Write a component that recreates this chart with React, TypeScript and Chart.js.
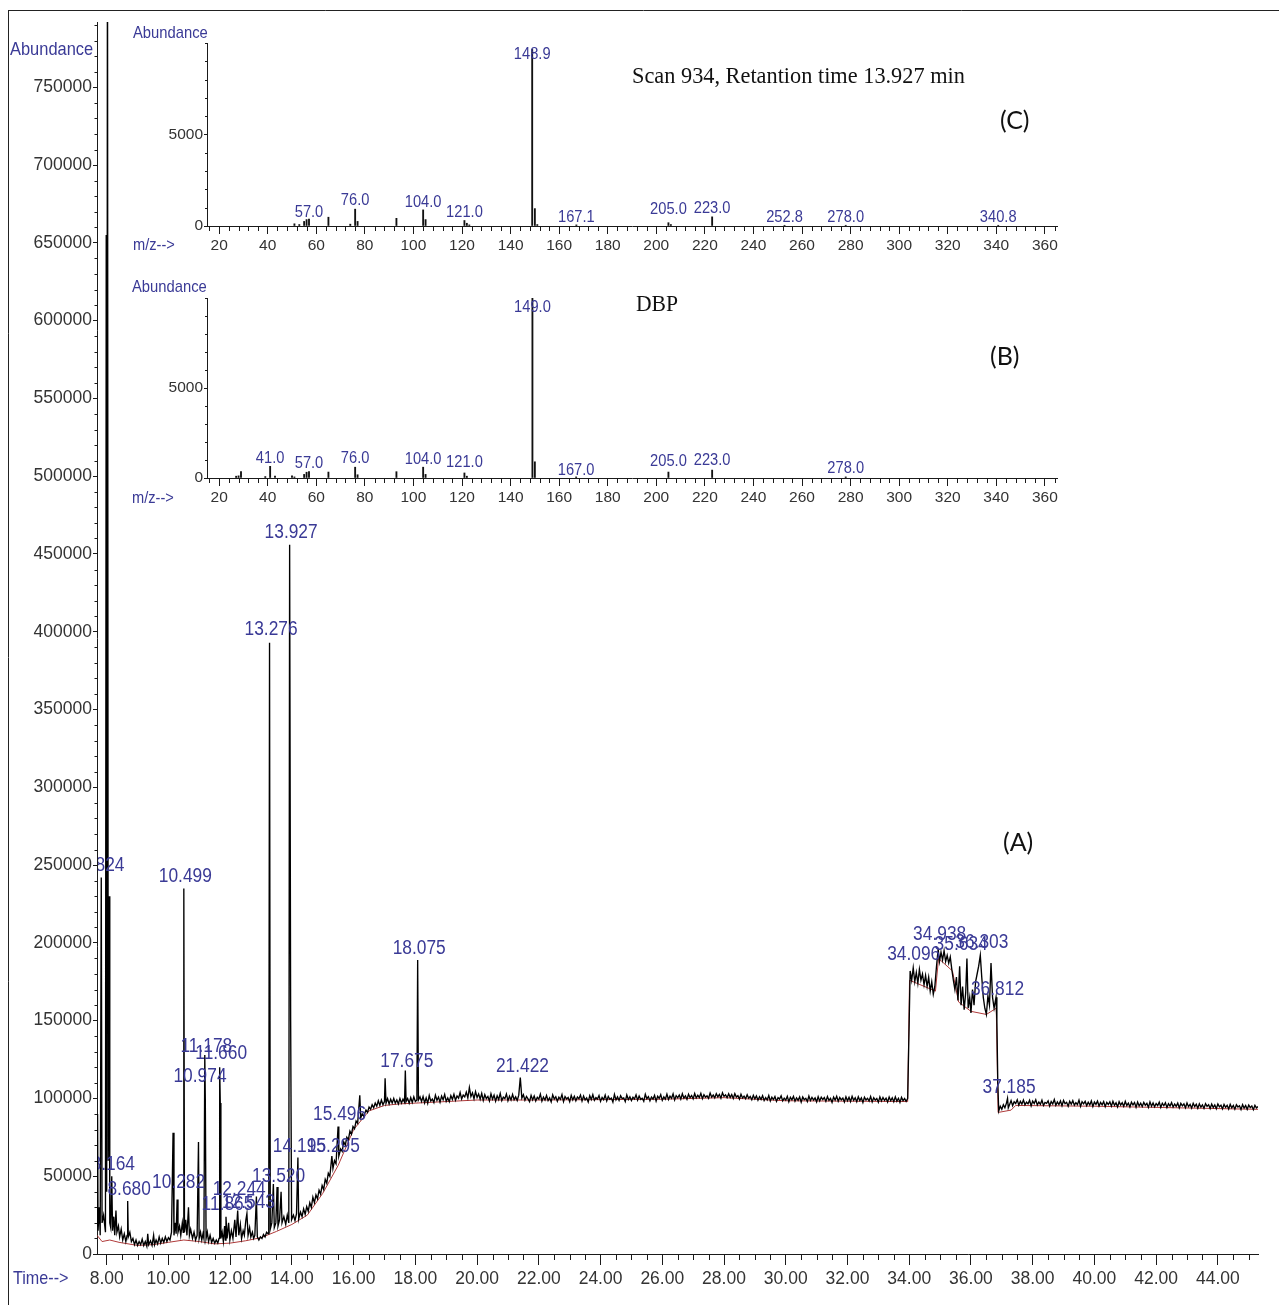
import React, { useEffect, useRef } from "react";
import { Chart, registerables } from "chart.js";

Chart.register(...registerables);

const SANS = "'Liberation Sans', Arial, sans-serif";
const SERIF = "'Liberation Serif', 'Times New Roman', serif";
const HUMAN = "Lato, 'Open Sans', sans-serif";
const BLUE = "#3a3a96";
const INK = "#1a1a1a";
const TICK_TEXT = "#333333";

// ---------- total ion chromatogram axes ----------
const RT_MIN = 7.686;
const RT_MAX = 45.3;
const ABUND_MAX = 792000;
const RT_TICKS = [8, 10, 12, 14, 16, 18, 20, 22, 24, 26, 28, 30, 32, 34, 36, 38, 40, 42, 44];
const ABUND_TICKS = [0, 50000, 100000, 150000, 200000, 250000, 300000, 350000, 400000, 450000, 500000, 550000, 600000, 650000, 700000, 750000];
const SCAN_INTERVAL = 0.05; // min between recorded TIC points in the flat regions

// ---------- TIC trace [retention time (min), abundance] ----------
const TIC_EARLY = [
  [7.690, 18000], [7.705, 90000], [7.720, 15000], [7.760, 30000], [7.790, 12000], [7.824, 242000], [7.850, 20000],
  [7.900, 25000], [7.960, 14000], [7.985, 655000], [8.000, 40000], [8.025, 900000], [8.050, 60000], [8.080, 230000],
  [8.100, 20000], [8.130, 17000], [8.164, 50000], [8.190, 15000], [8.230, 24000], [8.260, 12000], [8.300, 28000],
  [8.330, 14000], [8.380, 18000], [8.420, 11000], [8.470, 16000], [8.520, 9000], [8.570, 13000], [8.620, 8000],
  [8.660, 12000], [8.680, 34000], [8.700, 11000], [8.750, 14000], [8.800, 8000], [8.850, 10000], [8.900, 6000],
  [8.950, 9000], [9.000, 5500], [9.050, 8000], [9.100, 6000], [9.150, 9500], [9.200, 5500], [9.250, 8000],
  [9.300, 5000], [9.330, 13000], [9.360, 6000], [9.420, 8500], [9.470, 5500], [9.520, 12000], [9.550, 6000],
  [9.600, 9000], [9.650, 6500], [9.700, 11000], [9.750, 7000], [9.800, 10000], [9.850, 7500], [9.900, 11000],
  [9.950, 8000], [10.000, 10500], [10.050, 9000], [10.100, 14000],
];

const TIC_PEAKS = [
  [10.150, 78000], [10.180, 12000], [10.220, 20000], [10.250, 13000], [10.282, 35000], [10.310, 14000], [10.360, 18000],
  [10.400, 12000], [10.450, 20000], [10.480, 14000], [10.499, 235000], [10.520, 14000], [10.560, 22000], [10.600, 12000],
  [10.650, 30000], [10.680, 12000], [10.720, 16000], [10.780, 10000], [10.830, 14000], [10.880, 9000], [10.930, 12000],
  [10.974, 72000], [10.995, 10000], [11.040, 14000], [11.080, 9000], [11.120, 13000], [11.150, 10000], [11.178, 128000],
  [11.195, 100000], [11.220, 10000], [11.260, 14000], [11.300, 8000], [11.350, 12000], [11.400, 7500], [11.450, 10000],
  [11.500, 7000], [11.550, 9000], [11.600, 7000], [11.640, 10000], [11.660, 120000], [11.680, 97000], [11.700, 10000],
  [11.740, 14000], [11.780, 8000], [11.820, 18000], [11.845, 9000], [11.865, 24000], [11.900, 10000], [11.950, 20000],
  [11.990, 9000], [12.040, 15000], [12.090, 10000], [12.150, 22000], [12.190, 11000], [12.244, 28000], [12.280, 12000],
  [12.330, 19000], [12.370, 10000], [12.420, 15000], [12.460, 12000], [12.510, 22000], [12.543, 26000], [12.580, 12000],
  [12.630, 17000], [12.670, 11000], [12.720, 14000], [12.760, 10000], [12.800, 12000], [12.850, 37000], [12.880, 11000],
  [12.930, 9000], [12.980, 11000], [13.030, 10000], [13.080, 12500], [13.130, 11000], [13.180, 14000], [13.230, 13000],
  [13.250, 15000], [13.276, 393000], [13.300, 16000], [13.350, 20000], [13.400, 45000], [13.430, 17000], [13.480, 20000],
  [13.520, 43000], [13.550, 18000], [13.600, 22000], [13.650, 40000], [13.680, 20000], [13.740, 24000], [13.800, 19000],
  [13.850, 25000], [13.900, 20000], [13.927, 456000], [13.960, 150000], [13.990, 22000],
];

const TIC_RISE = [
  [14.050, 25000], [14.100, 21500], [14.150, 26000], [14.195, 62000], [14.220, 22500], [14.280, 27000], [14.330, 24000],
  [14.380, 29000], [14.430, 25500], [14.480, 30500], [14.530, 27500], [14.580, 33000], [14.630, 30000], [14.680, 36500],
  [14.730, 33000], [14.780, 38000], [14.830, 35500], [14.880, 41000], [14.930, 38500], [14.980, 44000], [15.030, 41500],
  [15.080, 48000], [15.130, 45500], [15.180, 52000], [15.230, 50000], [15.295, 63000], [15.330, 55000], [15.380, 60000],
  [15.430, 58000], [15.496, 82000], [15.520, 63000], [15.580, 67500], [15.630, 66000], [15.680, 72000], [15.730, 70000],
  [15.780, 75000], [15.830, 73500], [15.880, 79000], [15.930, 77000], [15.980, 82000], [16.030, 80500], [16.080, 85500],
  [16.130, 84000], [16.200, 102000], [16.230, 87500], [16.280, 90000], [16.330, 88500], [16.400, 92500], [16.450, 91000],
  [16.500, 94500], [16.550, 93000], [16.600, 96000], [16.650, 94000], [16.700, 97000], [16.750, 95000], [16.800, 98500],
  [16.850, 95500], [16.900, 99000], [16.950, 96000], [17.000, 98000], [17.020, 113000], [17.050, 97000], [17.100, 100000],
  [17.150, 96500], [17.200, 99500], [17.250, 97000], [17.300, 100000], [17.350, 97000], [17.400, 99000], [17.450, 96500],
  [17.500, 100000], [17.550, 97000], [17.600, 99500], [17.650, 97500], [17.675, 118000], [17.700, 98000], [17.750, 100000],
  [17.800, 97000], [17.850, 100500], [17.900, 97500], [17.950, 101000], [18.000, 98000], [18.050, 99000], [18.075, 189000],
  [18.100, 99000], [18.150, 101000],
];

// flat region 18.20 – 33.90 min, one value per scan interval (abundance ×1000)
const PLATEAU_START = 18.2;
const PLATEAU_K = [
  98.0, 101.2, 97.1, 100.4, 96.8, 101.9, 98.3, 99.6, 97.4, 102.1, 98.8, 100.9, 97.6, 101.5, 99.2, 102.6, 98.1, 100.3, 97.9, 101.8,
  99.4, 102.7, 98.9, 101.6, 100.2, 103.8, 99.7, 102.2, 101.0, 104.1, 100.3, 107.0, 101.2, 103.6, 99.8, 104.4, 100.6, 102.9, 99.5, 103.3,
  98.7, 102.4, 99.9, 101.3, 98.4, 103.0, 99.6, 102.1, 98.2, 101.7, 99.3, 103.2, 98.6, 100.8, 99.9, 102.9, 98.5, 101.4, 99.0, 102.6,
  99.2, 101.0, 98.7, 102.1, 113.5, 100.2, 102.4, 98.9, 101.3, 99.7, 97.9, 102.0, 99.1, 101.6, 98.4, 100.7, 99.5, 102.8, 98.3, 100.9,
  99.0, 101.9, 98.6, 100.4, 97.8, 102.3, 99.6, 101.1, 98.2, 100.8, 99.4, 102.5, 98.0, 101.2, 99.7, 100.6, 97.9, 102.0, 99.1, 101.4,
  98.5, 100.9, 99.8, 102.2, 98.3, 101.5, 99.0, 100.3, 97.7, 101.8, 99.3, 102.4, 98.8, 100.5, 99.6, 101.9, 98.1, 100.7, 99.2, 102.1,
  98.4, 101.3, 99.5, 100.2, 97.6, 102.6, 99.1, 101.0, 98.7, 101.7, 99.9, 100.4, 98.0, 102.2, 99.3, 101.1, 98.6, 100.8, 99.7, 102.3,
  98.9, 101.6, 99.4, 100.1, 98.2, 102.7, 99.8, 101.2, 98.5, 100.9, 99.6, 102.0, 98.3, 101.4, 100.0, 102.5, 98.8, 101.0, 99.5, 102.8,
  99.3, 101.5, 100.1, 102.9, 99.0, 101.8, 100.4, 102.2, 99.6, 103.0, 100.2, 101.6, 99.4, 102.7, 100.5, 101.9, 99.8, 103.2, 100.3, 102.0,
  100.6, 103.3, 99.9, 102.4, 100.8, 101.7, 100.1, 103.5, 100.9, 102.2, 100.4, 103.1, 101.0, 102.6, 100.2, 103.7, 101.3, 102.3, 100.5, 103.0,
  100.7, 102.5, 100.0, 103.1, 100.9, 101.8, 99.6, 102.7, 100.3, 101.5, 99.8, 102.4, 100.1, 101.3, 99.2, 102.0, 99.7, 101.6, 98.9, 101.1,
  99.4, 101.8, 98.7, 100.6, 99.0, 101.9, 98.4, 100.8, 99.3, 101.2, 98.1, 100.5, 99.6, 101.7, 98.5, 100.2, 98.9, 101.4, 97.9, 100.7,
  99.1, 101.3, 98.3, 100.4, 98.8, 101.0, 97.6, 100.9, 99.2, 100.1, 98.0, 101.5, 98.6, 100.6, 99.0, 100.3, 97.8, 101.1, 98.4, 100.8,
  99.3, 100.5, 98.1, 101.2, 98.7, 100.0, 97.5, 100.9, 98.9, 101.4, 98.2, 100.6, 99.1, 100.2, 97.7, 101.0, 98.5, 100.7, 98.0, 101.3,
  98.8, 100.4, 97.9, 101.1, 98.6, 100.3, 97.4, 100.8, 99.0, 100.1, 98.3, 101.2, 97.8, 100.5, 98.9, 100.0, 97.6, 101.0, 98.4, 100.6,
  98.7, 100.2, 97.7, 100.9, 98.5, 100.4, 97.9, 101.0, 98.2, 100.1, 97.5, 100.7, 98.6, 99.9, 98.1,
];

const TIC_HUMP = [
  [33.950, 100000], [34.000, 150000], [34.030, 182000], [34.080, 176000], [34.130, 184000], [34.180, 175000], [34.230, 181000],
  [34.280, 174000], [34.330, 183000], [34.380, 176000], [34.430, 180000], [34.480, 173000], [34.530, 179000], [34.580, 172000],
  [34.630, 178000], [34.680, 169000], [34.730, 175000], [34.780, 167000], [34.830, 172000], [34.880, 184000], [34.938, 196000],
  [34.980, 188000], [35.030, 194000], [35.080, 189000], [35.130, 195000], [35.180, 188000], [35.230, 192000], [35.280, 187000],
  [35.330, 191000], [35.380, 183000], [35.430, 176000], [35.480, 170000], [35.530, 178000], [35.580, 163000], [35.634, 185000],
  [35.680, 160000], [35.730, 172000], [35.780, 157000], [35.830, 168000], [35.870, 190000], [35.910, 158000], [35.960, 165000],
  [36.000, 155000], [36.050, 170000], [36.100, 160000], [36.150, 175000], [36.200, 180000], [36.250, 185000], [36.303, 192000],
  [36.350, 178000], [36.400, 165000], [36.450, 158000], [36.500, 154000], [36.550, 166000], [36.600, 160000], [36.650, 187000],
  [36.700, 165000], [36.750, 158000], [36.812, 165000], [36.840, 150000], [36.870, 110000], [36.900, 92000], [36.950, 95000],
  [37.000, 93000], [37.050, 96000], [37.100, 94000], [37.150, 97000], [37.185, 100000], [37.210, 94000],
];

// flat region 37.25 – 45.30 min, one value per scan interval (abundance ×1000)
const TAIL_START = 37.25;
const TAIL_K = [
  96.0, 98.6, 95.4, 97.9, 96.8, 99.2, 95.7, 98.1, 96.3, 99.0, 95.9, 97.6, 96.5, 98.8, 95.2, 98.3, 96.7, 99.1, 95.8, 97.7,
  96.2, 98.9, 95.5, 97.4, 96.9, 98.5, 95.1, 98.0, 96.4, 99.3, 95.6, 97.8, 96.1, 98.4, 95.3, 98.7, 96.6, 97.5, 95.0, 98.2,
  96.3, 98.6, 95.7, 97.3, 96.0, 98.9, 94.9, 97.9, 96.5, 98.1, 95.4, 97.6, 95.8, 98.4, 94.8, 97.7, 96.2, 98.3, 95.1, 97.4,
  95.9, 98.0, 94.7, 97.5, 96.1, 97.8, 95.0, 98.2, 95.6, 97.2, 94.6, 97.9, 95.7, 97.3, 94.9, 98.1, 95.5, 97.0, 94.5, 97.6,
  95.8, 97.4, 94.4, 97.7, 95.2, 96.9, 94.8, 97.5, 95.6, 96.8, 94.3, 97.8, 95.0, 97.1, 94.6, 96.7, 95.4, 97.6, 94.2, 96.9,
  95.3, 97.2, 94.1, 96.6, 95.1, 97.3, 94.5, 96.4, 94.9, 97.0, 93.9, 96.8, 95.2, 96.5, 94.0, 97.1, 94.7, 96.2, 93.8, 96.9,
  94.8, 96.3, 93.7, 96.6, 94.4, 95.9, 93.6, 96.7, 94.9, 96.0, 93.5, 96.4, 94.2, 95.8, 93.4, 96.5, 94.6, 95.7, 93.3, 96.1,
  94.3, 95.6, 93.2, 96.2, 94.0, 95.5, 93.1, 95.9, 94.5, 95.3, 92.9, 96.0, 93.8, 95.4, 93.0, 95.8, 94.1, 95.2, 92.8, 95.6,
  93.9, 94.8,
];

// integration baseline (dark red)
const TIC_BASELINE = [
  [7.69, 12000], [7.85, 8000], [8.1, 9000], [8.4, 7500], [9.0, 5500], [9.5, 6000], [10.0, 7500], [10.5, 9000],
  [11.0, 8000], [11.5, 6500], [12.0, 7000], [12.5, 8500], [13.0, 10500], [13.5, 14500], [14.0, 19000], [14.5, 25000],
  [15.0, 39000], [15.5, 57000], [16.0, 80000], [16.5, 92000], [17.0, 95500], [17.5, 96500], [18.0, 97000], [19.0, 98000],
  [20.0, 99000], [22.0, 99000], [26.0, 99500], [28.0, 100500], [30.0, 98500], [33.95, 98000], [34.01, 176000],
  [34.85, 169000], [34.95, 190000], [35.4, 182000], [35.6, 162000], [36.0, 156000], [36.5, 154000], [36.82, 158000],
  [36.88, 91000], [37.3, 92500], [37.45, 95500], [40.0, 95000], [45.3, 93000],
];

// peak labels: [retention time, abundance at label centre]
const TIC_LABELS = [
  [7.824, 249600], [8.164, 57400], [8.680, 41300], [10.282, 45800], [10.499, 242600], [10.974, 114000],
  [11.178, 133300], [11.660, 128800], [11.865, 31700], [12.244, 41300], [12.543, 33000], [13.276, 401400],
  [13.520, 49700], [13.927, 463700], [14.195, 69000], [15.295, 69000], [15.496, 89500], [17.675, 123600],
  [18.075, 196300], [21.422, 120400], [34.096, 192400], [34.938, 205300], [35.634, 198800], [36.303, 200200],
  [36.812, 170000], [37.185, 107000],
];

// ---------- mass spectra ----------
const MZ_MIN = 15;
const MZ_MAX = 365;
const MZ_TICKS = [20, 40, 60, 80, 100, 120, 140, 160, 180, 200, 220, 240, 260, 280, 300, 320, 340, 360];
const MS_ABUND_MAX = 10000;
const MS_ABUND_TICKS = [0, 5000];

// (C) scan 934 at 13.927 min
const SCAN_MZ = [51, 53, 55, 56, 57, 65, 74, 76, 77, 93, 104, 105, 121, 122, 123, 148.9, 150, 151, 167.1, 205, 206, 223, 252.8, 278, 340.8];
const SCAN_AB = [120, 80, 250, 350, 380, 480, 100, 920, 250, 420, 880, 350, 300, 150, 60, 9650, 950, 80, 60, 180, 80, 500, 40, 40, 40];
const SCAN_LABELS = [[57.0, 750], [76.0, 1386], [104.0, 1293], [121.0, 750], [148.9, 9359], [167.1, 478], [205.0, 897], [223.0, 951], [252.8, 478], [278.0, 478], [340.8, 478]];

// (B) library spectrum, DBP
const LIB_MZ = [27, 28, 29, 39, 41, 43, 50, 51, 55, 56, 57, 65, 76, 77, 93, 104, 105, 121, 122, 149, 150, 167, 205, 223, 278];
const LIB_AB = [100, 120, 350, 80, 650, 100, 120, 60, 200, 320, 360, 330, 600, 180, 350, 600, 200, 280, 100, 9999, 900, 60, 330, 440, 60];
const LIB_LABELS = [[41.0, 1094], [57.0, 817], [76.0, 1094], [104.0, 1039], [121.0, 850], [149.0, 9484], [167.0, 444], [205.0, 906], [223.0, 1000], [278.0, 539]];

const toXY = (pairs: number[][]) => pairs.map(([x, y]) => ({ x, y }));
const scanned = (start: number, kValues: number[]) =>
  kValues.map((k, i) => [Math.round((start + i * SCAN_INTERVAL) * 1000) / 1000, k * 1000]);

function range(from: number, to: number, step: number) {
  const out: number[] = [];
  for (let v = from; v <= to + 1e-9; v += step) out.push(Math.round(v * 1000) / 1000);
  return out;
}

function minorTicks(ctx: CanvasRenderingContext2D, chart: any, axis: "x" | "y", values: number[], skip: number[], len: number) {
  const scale = chart.scales[axis];
  const area = chart.chartArea;
  ctx.save();
  ctx.strokeStyle = INK;
  ctx.lineWidth = 1;
  ctx.beginPath();
  for (const v of values) {
    if (skip.some((s) => Math.abs(s - v) < 1e-6)) continue;
    if (v < scale.min || v > scale.max) continue;
    const p = Math.round(scale.getPixelForValue(v)) + 0.5;
    if (axis === "x") {
      ctx.moveTo(p, area.bottom);
      ctx.lineTo(p, area.bottom + len);
    } else {
      ctx.moveTo(area.left - len, p);
      ctx.lineTo(area.left, p);
    }
  }
  ctx.stroke();
  ctx.restore();
}

// text drawn with a horizontal squeeze, like the (horizontally compressed) original print
function text(ctx: CanvasRenderingContext2D, s: string, x: number, y: number, font: string, color: string, align: CanvasTextAlign = "left", hscale = 1) {
  ctx.save();
  ctx.font = font;
  ctx.fillStyle = color;
  ctx.textAlign = align;
  ctx.textBaseline = "middle";
  ctx.translate(x, y);
  ctx.scale(hscale, 1);
  ctx.fillText(s, 0, 0);
  ctx.restore();
}

const mainDecor = {
  id: "mainDecor",
  afterDatasetsDraw(chart: any) {
    const { ctx, chartArea, scales } = chart;
    ctx.save();
    ctx.beginPath();
    ctx.rect(chartArea.left + 1, chartArea.top, chartArea.right - chartArea.left, chartArea.bottom - chartArea.top);
    ctx.clip();
    for (const [rt, ab] of TIC_LABELS) {
      text(ctx, rt.toFixed(3), scales.x.getPixelForValue(rt) + 1.5, scales.y.getPixelForValue(ab), `19.5px ${SANS}`, BLUE, "center", 0.89);
    }
    ctx.restore();
  },
  afterDraw(chart: any) {
    const { ctx } = chart;
    minorTicks(ctx, chart, "x", range(7.5, 45.5, 0.5), RT_TICKS, 6);
    minorTicks(ctx, chart, "y", range(0, 790000, 10000), ABUND_TICKS, 2.5);
    text(ctx, "Abundance", 10, 50, `19px ${SANS}`, BLUE, "left", 0.865);
    text(ctx, "Time-->", 13, 1279, `19px ${SANS}`, BLUE, "left", 0.85);
    text(ctx, "Abundance", 133, 33, `17px ${SANS}`, BLUE, "left", 0.87);
    text(ctx, "m/z-->", 133, 245, `17px ${SANS}`, BLUE, "left", 0.86);
    text(ctx, "Abundance", 132, 287, `17px ${SANS}`, BLUE, "left", 0.87);
    text(ctx, "m/z-->", 132, 498, `17px ${SANS}`, BLUE, "left", 0.86);
    text(ctx, "Scan 934, Retantion time 13.927 min", 632, 77, `24px ${SERIF}`, "#111", "left", 0.93);
    text(ctx, "DBP", 636, 305, `23px ${SERIF}`, "#111", "left", 0.94);
    text(ctx, "(C)", 1000, 121, `25px ${HUMAN}`, "#111");
    text(ctx, "(B)", 990, 357, `25px ${HUMAN}`, "#111");
    text(ctx, "(A)", 1003, 843, `25px ${HUMAN}`, "#111");
    // photo frame (top and left edges)
    ctx.save();
    ctx.strokeStyle = "#222";
    ctx.lineWidth = 1;
    ctx.beginPath();
    ctx.moveTo(8, 10.5);
    ctx.lineTo(1279, 10.5);
    ctx.moveTo(8.5, 10);
    ctx.lineTo(8.5, 1305);
    ctx.stroke();
    ctx.restore();
  },
};

function mainConfig(): any {
  const trace = [
    ...TIC_EARLY, ...TIC_PEAKS, ...TIC_RISE,
    ...scanned(PLATEAU_START, PLATEAU_K),
    ...TIC_HUMP,
    ...scanned(TAIL_START, TAIL_K),
  ];
  return {
    type: "line",
    data: {
      datasets: [
        { data: toXY(trace), borderColor: "#000", borderWidth: 1.35, pointRadius: 0, tension: 0, fill: false },
        { data: toXY(TIC_BASELINE), borderColor: "#b03a3a", borderWidth: 1, pointRadius: 0, tension: 0, fill: false },
      ],
    },
    options: {
      animation: false,
      responsive: false,
      events: [],
      layout: { padding: { left: 0, top: 22, right: 21, bottom: 0 } },
      plugins: { legend: { display: false }, tooltip: { enabled: false } },
      scales: {
        x: {
          type: "linear",
          bounds: "data",
          min: RT_MIN,
          max: RT_MAX,
          afterBuildTicks: (s: any) => { s.ticks = RT_TICKS.map((value) => ({ value })); },
          afterFit: (s: any) => { s.height = 51; },
          grid: { display: true, drawOnChartArea: false, drawTicks: true, tickLength: 11, color: INK },
          border: { display: true, color: INK, width: 1 },
          ticks: { autoSkip: false, maxRotation: 0, minRotation: 0, padding: 4, color: TICK_TEXT, font: { size: 17.5, family: SANS }, callback: (v: any) => Number(v).toFixed(2) },
        },
        y: {
          type: "linear",
          bounds: "data",
          min: 0,
          max: ABUND_MAX,
          afterBuildTicks: (s: any) => { s.ticks = ABUND_TICKS.map((value) => ({ value })); },
          afterFit: (s: any) => { s.width = 97; },
          grid: { display: true, drawOnChartArea: false, drawTicks: true, tickLength: 4, color: INK },
          border: { display: true, color: INK, width: 1 },
          ticks: { autoSkip: false, padding: 1, color: TICK_TEXT, font: { size: 17.5, family: SANS }, callback: (v: any) => String(v) },
        },
      },
    },
    plugins: [mainDecor],
  };
}

function spectrumConfig(mz: number[], ab: number[], labels: number[][], pad: { top: number; right: number }, yWidth: number, xHeight: number): any {
  const decor = {
    id: "msDecor",
    afterDatasetsDraw(chart: any) {
      const { ctx, scales } = chart;
      for (const [m, a] of labels) {
        text(ctx, m.toFixed(1), scales.x.getPixelForValue(m), scales.y.getPixelForValue(a), `16.5px ${SANS}`, BLUE, "center", 0.89);
      }
    },
    afterDraw(chart: any) {
      const { ctx } = chart;
      minorTicks(ctx, chart, "x", range(16, 364, 4), MZ_TICKS, 5);
      minorTicks(ctx, chart, "y", range(0, 10000, 1000), MS_ABUND_TICKS, 2);
    },
  };
  return {
    type: "bar",
    data: {
      datasets: [
        { data: mz.map((m, i) => ({ x: m, y: ab[i] })), backgroundColor: "#111", borderWidth: 0, barThickness: 1.2 },
      ],
    },
    options: {
      animation: false,
      responsive: false,
      events: [],
      layout: { padding: { left: 0, top: pad.top, right: pad.right, bottom: 0 } },
      plugins: { legend: { display: false }, tooltip: { enabled: false } },
      scales: {
        x: {
          type: "linear",
          bounds: "data",
          offset: false,
          min: MZ_MIN,
          max: MZ_MAX,
          afterBuildTicks: (s: any) => { s.ticks = MZ_TICKS.map((value) => ({ value })); },
          afterFit: (s: any) => { s.height = xHeight; },
          grid: { display: true, offset: false, drawOnChartArea: false, drawTicks: true, tickLength: 8, color: INK },
          border: { display: true, color: INK, width: 1 },
          ticks: { autoSkip: false, maxRotation: 0, minRotation: 0, padding: 2, color: TICK_TEXT, font: { size: 15.5, family: SANS }, callback: (v: any) => String(v) },
        },
        y: {
          type: "linear",
          bounds: "data",
          min: 0,
          max: MS_ABUND_MAX,
          afterBuildTicks: (s: any) => { s.ticks = MS_ABUND_TICKS.map((value) => ({ value })); },
          afterFit: (s: any) => { s.width = yWidth; },
          grid: { display: true, drawOnChartArea: false, drawTicks: true, tickLength: 3, color: INK },
          border: { display: true, color: INK, width: 1 },
          ticks: { autoSkip: false, padding: 1, color: TICK_TEXT, font: { size: 15.5, family: SANS }, callback: (v: any) => String(v) },
        },
      },
    },
    plugins: [decor],
  };
}

export default function App() {
  const mainRef = useRef<HTMLCanvasElement>(null);
  const scanRef = useRef<HTMLCanvasElement>(null);
  const libRef = useRef<HTMLCanvasElement>(null);

  useEffect(() => {
    const charts = [
      new Chart(mainRef.current!, mainConfig()),
      // canvas at page (120, 20): plot area 207..1057 x 43..226
      new Chart(scanRef.current!, spectrumConfig(SCAN_MZ, SCAN_AB, SCAN_LABELS, { top: 23, right: 23 }, 87, 39)),
      // canvas at page (120, 270): plot area 207..1057 x 298..478
      new Chart(libRef.current!, spectrumConfig(LIB_MZ, LIB_AB, LIB_LABELS, { top: 28, right: 23 }, 87, 37)),
    ];
    return () => charts.forEach((c) => c.destroy());
  }, []);

  return (
    <div style={{ position: "absolute", left: 0, top: 0, width: 1279, height: 1305, background: "#fff", overflow: "hidden" }}>
      <canvas ref={mainRef} width={1279} height={1305} style={{ position: "absolute", left: 0, top: 0, width: 1279, height: 1305 }} />
      <canvas ref={scanRef} width={960} height={245} style={{ position: "absolute", left: 120, top: 20, width: 960, height: 245 }} />
      <canvas ref={libRef} width={960} height={245} style={{ position: "absolute", left: 120, top: 270, width: 960, height: 245 }} />
    </div>
  );
}
